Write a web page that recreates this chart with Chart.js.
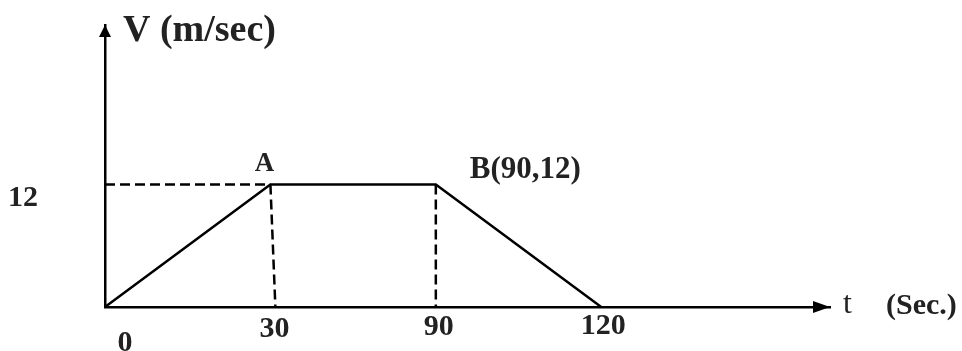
<!DOCTYPE html>
<html>
<head>
<meta charset="utf-8">
<script src="https://cdn.jsdelivr.net/npm/chart.js@4.4.1/dist/chart.umd.min.js"></script>
<style>
    html, body { margin: 0; padding: 0; background: #fff; }
    #wrap { width: 962px; height: 351px; position: relative; }
</style>
</head>
<body>
<div id="wrap"><canvas id="vt-graph"></canvas></div>
<script>
// time ticks (sec) - drawn evenly spaced like the sketch, so x is the tick index
const tLabels = ["0", "30", "90", "120"];
const vValues = [0, 12, 12, 0];
const vTickLabels = ["12"];
const vTicks = [12];
const pointNames = ["", "A", "B(90,12)", ""];

const axisTitleY = "V (m/sec)";
const axisTitleX = "t";
const axisUnitX = "(Sec.)";

const serif = "'Liberation Serif', 'Times New Roman', serif";
const ink = "#000";
const textInk = "#222";

let profile = tLabels.map(function(lbl, i) {
    return {x: i, y: vValues[i]};
});

// guide lines from A and B down to the axis, and A across to the V axis
let guideA_h = [{x: 0, y: vValues[1]}, {x: 1, y: vValues[1]}];
let guideA_v = [{x: 1, y: vValues[1]}, {x: 1.03, y: 0}];
let guideB_v = [{x: 2, y: vValues[2]}, {x: 2, y: 0}];

const sketchLabels = {
    id: "sketchLabels",
    afterDraw(chart) {
        let ctx = chart.ctx;
        let xs = chart.scales.x;
        let ys = chart.scales.y;
        let area = chart.chartArea;
        let x0 = xs.getPixelForValue(0);
        let y0 = ys.getPixelForValue(0);
        ctx.save();

        // arrow heads
        ctx.fillStyle = ink;
        ctx.beginPath();
        ctx.moveTo(x0, area.top);
        ctx.lineTo(x0 - 6, area.top + 12);
        ctx.lineTo(x0 + 6, area.top + 12);
        ctx.closePath();
        ctx.fill();
        ctx.beginPath();
        ctx.moveTo(area.right, y0);
        ctx.lineTo(area.right - 17, y0 - 6);
        ctx.lineTo(area.right - 17, y0 + 6);
        ctx.closePath();
        ctx.fill();

        ctx.fillStyle = textInk;
        ctx.textBaseline = "alphabetic";

        // axis titles
        ctx.textAlign = "left";
        ctx.font = "bold 38px " + serif;
        ctx.fillText(axisTitleY, x0 + 18, area.top + 16);
        ctx.font = "32px " + serif;
        ctx.fillText(axisTitleX, area.right + 13, y0 + 6);
        ctx.font = "bold 30px " + serif;
        ctx.fillText(axisUnitX, area.right + 56, y0 + 7);

        // V tick
        ctx.textAlign = "left";
        vTicks.forEach(function(v, i) {
            ctx.fillText(vTickLabels[i], 8, ys.getPixelForValue(v) + 21);
        });

        // t ticks
        ctx.textAlign = "center";
        tLabels.forEach(function(lbl, i) {
            let px = xs.getPixelForValue(i);
            if (i == 0) {
                ctx.fillText(lbl, px + 20, y0 + 44);
            } else {
                ctx.fillText(lbl, px + 5 - i, y0 + 31 - i * 1.5);
            }
        });

        // point names
        ctx.font = "bold 27px " + serif;
        ctx.textAlign = "center";
        ctx.fillText(pointNames[1], xs.getPixelForValue(1) - 6, ys.getPixelForValue(vValues[1]) - 14);
        ctx.font = "bold 31px " + serif;
        ctx.textAlign = "left";
        ctx.fillText(pointNames[2], xs.getPixelForValue(2) + 34, ys.getPixelForValue(vValues[2]) - 7);

        ctx.restore();
    }
};

function lineSet(data, dashed) {
    return {
        data: data,
        borderColor: ink,
        borderWidth: 2.5,
        borderDash: dashed ? [10, 5] : [],
        pointRadius: 0,
        tension: 0,
        fill: false,
        clip: false,
        showLine: true
    };
}

let chart = new Chart(document.getElementById("vt-graph").getContext("2d"), {
    type: "scatter",
    data: {
        datasets: [
            lineSet(profile, false),
            lineSet(guideA_h, true),
            lineSet(guideA_v, true),
            lineSet(guideB_v, true)
        ]
    },
    options: {
        responsive: true,
        maintainAspectRatio: false,
        animation: false,
        events: [],
        layout: {
            padding: {left: 97, right: 132, top: 25, bottom: 36}
        },
        plugins: {
            legend: {display: false},
            tooltip: {enabled: false},
            title: {display: false}
        },
        scales: {
            x: {
                type: "linear",
                min: 0,
                max: 4.383,
                grid: {display: false},
                ticks: {display: false},
                border: {display: true, color: ink, width: 2.5}
            },
            y: {
                type: "linear",
                min: 0,
                max: 27.64,
                grid: {display: false},
                ticks: {display: false},
                border: {display: true, color: ink, width: 2.5}
            }
        }
    },
    plugins: [sketchLabels]
});
</script>
</body>
</html>
